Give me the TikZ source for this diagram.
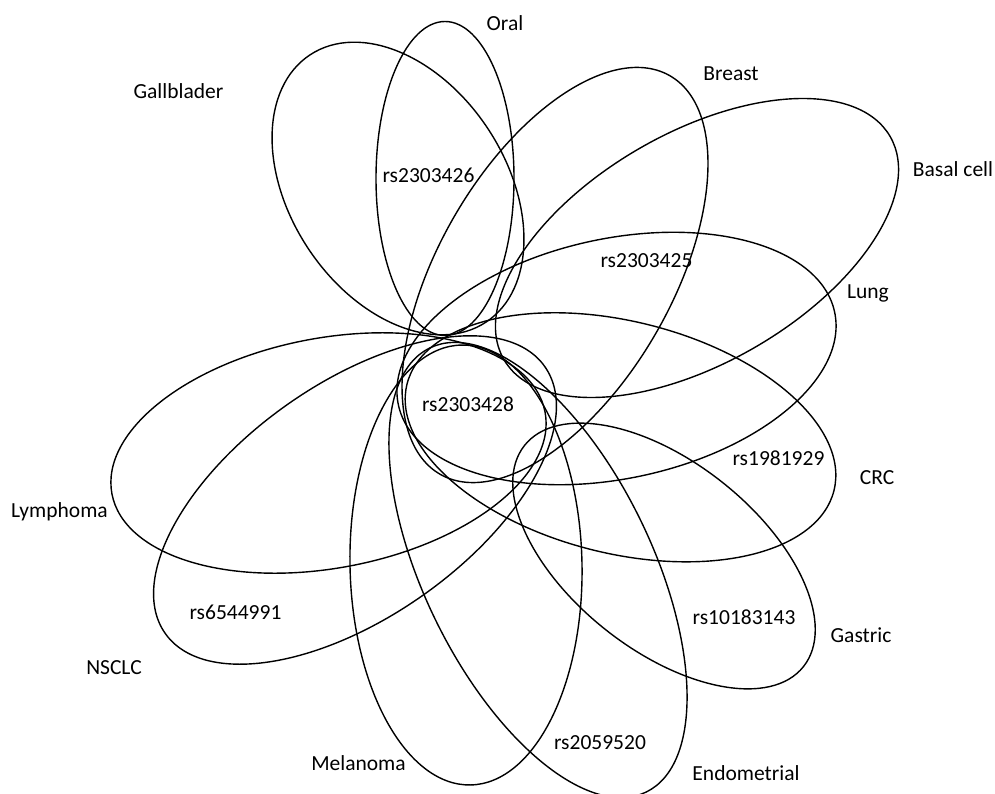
\documentclass[tikz,border=0pt]{standalone}
\usepackage{fontspec}
\setmainfont{Carlito}
\begin{document}
\begin{tikzpicture}[x=1pt,y=-1pt,
  petal/.style={draw=black, line width=1.4pt},
  lbl/.style={font=\fontsize{21.5}{26}\selectfont, inner sep=0pt, anchor=base}]
\useasboundingbox (0,0) rectangle (995,794);
\fill[white] (0,0) rectangle (995,794);
% #1 cx, #2 cy, #3 semi-major, #4 semi-minor, #5 tilt (clockwise, degrees)
\newcommand\petalellipse[5]{%
  \draw[petal, shift={(#1,#2)}, rotate=-#5] (0,0) ellipse [x radius=#3, y radius=#4];}
% disease sets
\petalellipse{445}{178.5}{157}{69}{90}       % Oral
\petalellipse{398}{188.5}{160}{108}{56.7}    % Gallblader
\petalellipse{555}{275}{230}{116.5}{-60}     % Breast
\petalellipse{697}{248}{223}{115}{-30}       % Basal cell
\petalellipse{616.5}{358.5}{223}{120}{-12}   % Lung
\petalellipse{620.5}{437.3}{220}{116}{14}    % CRC
\petalellipse{664}{556}{178}{94}{38.4}       % Gastric
\petalellipse{538}{570}{247}{114}{64}        % Endometrial
\petalellipse{466}{565}{220}{116}{88.8}      % Melanoma
\petalellipse{355}{500}{232}{117}{-35.1}     % NSCLC
\petalellipse{328.5}{453}{220.4}{115}{-10.7} % Lymphoma
% set names
\node[lbl] (oral)   at (505,31)  {Oral};
\node[lbl] (gall)   at (178.5,99) {Gallblader};
\node[lbl] (breast) at (731,81)  {Breast};
\node[lbl] (basal)  at (953,177) {Basal cell};
\node[lbl] (lung)   at (868,298) {Lung};
\node[lbl] (crc)    at (877,484) {CRC};
\node[lbl] (gastric) at (861,642) {Gastric};
\node[lbl] (endo)   at (746,780) {Endometrial};
\node[lbl] (mela)   at (358.5,770) {Melanoma};
\node[lbl] (nsclc)  at (114,674) {NSCLC};
\node[lbl] (lymph)  at (59.5,517) {Lymphoma};
% SNP labels
\node[lbl] (s426) at (428.5,183) {rs2303426};
\node[lbl] (s425) at (646.5,267) {rs2303425};
\node[lbl] (s428) at (468,411)   {rs2303428};
\node[lbl] (s929) at (778.5,465) {rs1981929};
\node[lbl] (s143) at (744,624)   {rs10183143};
\node[lbl] (s991) at (235.5,619) {rs6544991};
\node[lbl] (s520) at (600,749)   {rs2059520};
\end{tikzpicture}
\end{document}
